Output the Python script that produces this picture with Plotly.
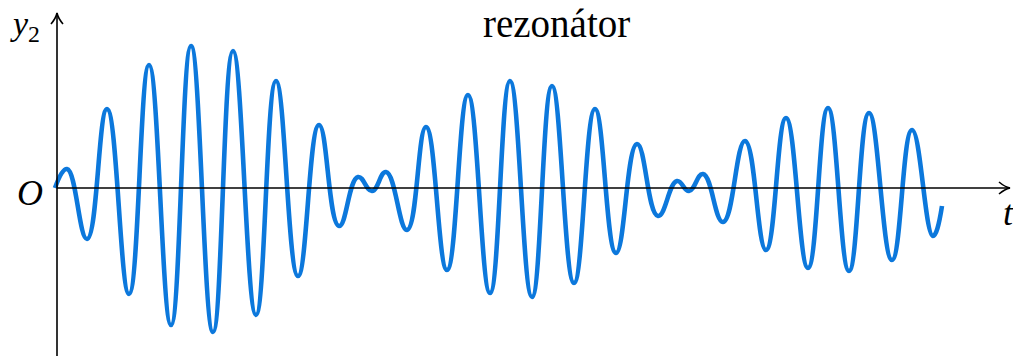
import plotly.graph_objects as go

# Resonator response y2(t): turning points of the beating oscillation
t_vals = [0.00, 0.12, 0.32, 0.52, 0.74, 0.94, 1.16, 1.36, 1.58, 1.78,
          2.01, 2.21, 2.43, 2.64, 2.84, 3.03, 3.17, 3.31, 3.52, 3.71,
          3.92, 4.13, 4.35, 4.55, 4.77, 4.97, 5.19, 5.40, 5.61, 5.82,
          6.03, 6.22, 6.34, 6.48, 6.68, 6.90, 7.11, 7.31, 7.53, 7.73,
          7.94, 8.14, 8.37, 8.57, 8.78, 8.87]
y2_vals = [0.00, 0.19, -0.51, 0.79, -1.06, 1.23, -1.37, 1.42, -1.44, 1.37,
           -1.27, 1.07, -0.88, 0.63, -0.38, 0.11, -0.03, 0.16, -0.42, 0.61,
           -0.82, 0.93, -1.05, 1.07, -1.09, 1.02, -0.95, 0.79, -0.65, 0.44,
           -0.28, 0.07, -0.03, 0.14, -0.34, 0.47, -0.62, 0.70, -0.80, 0.80,
           -0.83, 0.75, -0.72, 0.58, -0.48, -0.18]

title_text = "rezonátor"

T_MIN, T_MAX = -0.55, 9.58
Y_MIN, Y_MAX = -1.68, 1.88
T_AXIS_END = 9.55
Y_AXIS_TOP = 1.75
Y_AXIS_X = 0.02

fig = go.Figure()
fig.add_trace(go.Scatter(
    x=t_vals, y=y2_vals, mode="lines",
    line=dict(color="#0c78dc", width=4.6, shape="spline", smoothing=1.3),
    hoverinfo="skip", showlegend=False,
))

axis_line = dict(color="black", width=1.6)
shapes = [
    # t axis
    dict(type="line", xref="x", yref="y", x0=Y_AXIS_X, y0=0, x1=T_AXIS_END, y1=0, line=axis_line),
    # y2 axis
    dict(type="line", xref="x", yref="y", x0=Y_AXIS_X, y0=Y_MIN, x1=Y_AXIS_X, y1=Y_AXIS_TOP, line=axis_line),
    # open arrow heads
    dict(type="path", xref="x", yref="y", line=axis_line,
         path=(f"M {T_AXIS_END-0.11},0.06 Q {T_AXIS_END-0.05},0.01 {T_AXIS_END},0 "
               f"Q {T_AXIS_END-0.05},-0.01 {T_AXIS_END-0.11},-0.06")),
    dict(type="path", xref="x", yref="y", line=axis_line,
         path=(f"M {Y_AXIS_X-0.06},{Y_AXIS_TOP-0.11} Q {Y_AXIS_X-0.01},{Y_AXIS_TOP-0.05} {Y_AXIS_X},{Y_AXIS_TOP} "
               f"Q {Y_AXIS_X+0.01},{Y_AXIS_TOP-0.05} {Y_AXIS_X+0.06},{Y_AXIS_TOP-0.11}")),
]

serif = "Liberation Serif"
annotations = [
    dict(x=5.01, y=1.65, xref="x", yref="y", text=title_text, showarrow=False,
         font=dict(family=serif, size=39, color="black")),
    dict(x=-0.25, y=-0.05, xref="x", yref="y", text="<i>O</i>", showarrow=False,
         font=dict(family=serif, size=36, color="black")),
    dict(x=-0.30, y=1.62, xref="x", yref="y", text="<i>y</i><sub>2</sub>", showarrow=False,
         font=dict(family=serif, size=34, color="black")),
    dict(x=9.46, y=-0.25, xref="x", yref="y", text="<i>t</i>", showarrow=False,
         xanchor="left", font=dict(family=serif, size=36, color="black")),
]

fig.update_layout(
    width=1013, height=356,
    margin=dict(l=0, r=0, t=0, b=0),
    paper_bgcolor="white", plot_bgcolor="white",
    xaxis=dict(range=[T_MIN, T_MAX], visible=False, fixedrange=True),
    yaxis=dict(range=[Y_MIN, Y_MAX], visible=False, fixedrange=True),
    shapes=shapes, annotations=annotations,
)

fig.write_html("out.html")
